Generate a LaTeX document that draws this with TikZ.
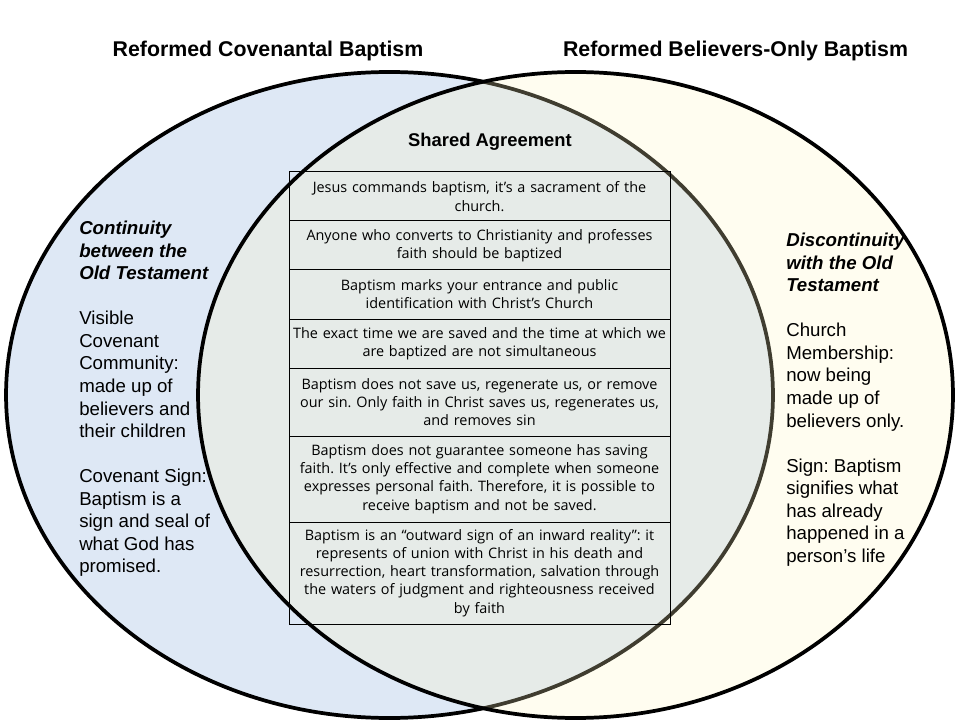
\documentclass[tikz,border=0pt]{standalone}
\usepackage{fontspec}
\setmainfont{Liberation Sans}
\newfontfamily\tablefont{Open Sans}
\usetikzlibrary{positioning}
\definecolor{leftblue}{RGB}{222,232,245}
\definecolor{rightcream}{RGB}{255,247,195}
\frenchspacing
\begin{document}
\begin{tikzpicture}[x=0.75pt,y=-0.75pt,
  title/.style={font=\fontsize{16}{19}\selectfont\bfseries},
  side/.style={anchor=north west,align=left,inner sep=0pt,font=\fontsize{14}{16.9}\selectfont},
  row/.style={draw,line width=0.75pt,outer sep=0pt,text width=282pt,inner xsep=1.875pt,inner ysep=0pt,
    align=center,font=\tablefont\fontsize{10.8}{13.65}\selectfont}]
  \useasboundingbox (0,0) rectangle (960,720);
  % the two circles
  \draw[line width=2.8pt,fill=leftblue] (389.5,395) ellipse [x radius=287.6pt,y radius=242.25pt];
  \draw[line width=2.8pt,fill=rightcream,fill opacity=0.25] (575.5,395) ellipse [x radius=283.1pt,y radius=242.25pt];
  % titles
  \node[title] (covtitle) at (268,51) {Reformed Covenantal Baptism};
  \node[title] (beltitle) at (735.5,51) {Reformed Believers-Only Baptism};
  \node[font=\fontsize{13.8}{16}\selectfont\bfseries] (shared) at (490,142) {Shared Agreement};
  % left side
  \node[side] (continuity) at (79,221) {\textbf{\textit{Continuity}}\\ \textbf{\textit{between the}}\\ \textbf{\textit{Old Testament}}\\[16.9pt]
    Visible\\ Covenant\\ Community:\\ made up of\\ believers and\\ their children\\[16.9pt]
    Covenant Sign:\\ Baptism is a\\ sign and seal of\\ what God has\\ promised.};
  % right side
  \node[side] (discontinuity) at (786,233) {\textbf{\textit{Discontinuity}}\\ \textbf{\textit{with the Old}}\\ \textbf{\textit{Testament}}\\[16.9pt]
    Church\\ Membership:\\ now being\\ made up of\\ believers only.\\[16.9pt]
    Sign: Baptism\\ signifies what\\ has already\\ happened in a\\ person’s life};
  % table of shared points
  \node[row,anchor=north,minimum height=36.75pt] (r1) at (479.5,172) {Jesus commands baptism, it’s a sacrament of the\\ church.};
  \node[row,below=0pt of r1,minimum height=36.75pt] (r2) {Anyone who converts to Christianity and professes\\ faith should be baptized};
  \node[row,below=0pt of r2,minimum height=36.75pt] (r3) {Baptism marks your entrance and public\\ identification with Christ’s Church};
  \node[row,below=0pt of r3,minimum height=36.75pt] (r4) {The exact time we are saved and the time at which we\\ are baptized are not simultaneous};
  \node[row,below=0pt of r4,minimum height=51pt] (r5) {Baptism does not save us, regenerate us, or remove\\ our sin. Only faith in Christ saves us, regenerates us,\\ and removes sin};
  \node[row,below=0pt of r5,minimum height=64.5pt] (r6) {Baptism does not guarantee someone has saving\\ faith. It’s only effective and complete when someone\\ expresses personal faith. Therefore, it is possible to\\ receive baptism and not be saved.};
  \node[row,below=0pt of r6,minimum height=76.5pt] (r7) {Baptism is an “outward sign of an inward reality”: it\\ represents of union with Christ in his death and\\ resurrection, heart transformation, salvation through\\ the waters of judgment and righteousness received\\ by faith};
\end{tikzpicture}
\end{document}
